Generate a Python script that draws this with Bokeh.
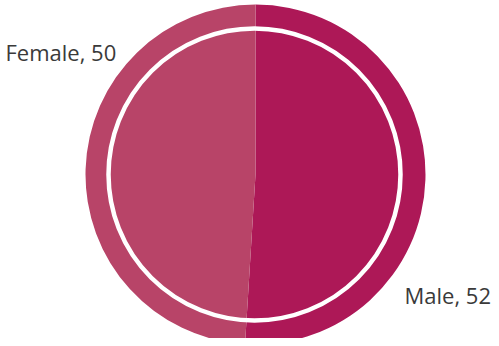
import math
from bokeh.plotting import figure
from bokeh.models import Range1d
from bokeh.core.properties import value
from bokeh.embed import file_html
from bokeh.resources import INLINE

# data
categories = ["Male", "Female"]
counts = [52, 50]
colors = ["#AD1857", "#B84468"]

W, H = 491, 338
p = figure(width=W, height=H, output_backend="svg", toolbar_location=None,
           x_range=Range1d(0, W), y_range=Range1d(H, 0), min_border=0)
p.axis.visible = False
p.grid.visible = False
p.outline_line_color = None
p.background_fill_color = "white"
p.border_fill_color = "white"

# positions measured from the top-left of the picture
cx, cy, r = 255, 174, 170
total = sum(counts)
theta_m = 2 * math.pi * counts[0] / total
theta_f = 2 * math.pi * counts[1] / total
# angles are on screen, counter-clockwise from 3 o'clock
starts = [math.pi / 2 - theta_m, math.pi / 2]
ends = [math.pi / 2, math.pi / 2 + theta_f]

p.wedge(x=[cx, cx], y=[cy, cy], radius=r, radius_units="screen",
        start_angle=starts, end_angle=ends, fill_color=colors,
        line_color=None)

# white inner ring
p.scatter(x=[254], y=[174], size=2 * 146, marker="circle",
          fill_color=None, line_color="white", line_width=4.5)

labels = [f"{c}, {v}" for c, v in zip(categories, counts)]
p.text(x=[404], y=[294], text=[labels[0]], text_font=value("Open Sans"),
       text_font_size="22px", text_color="#3a3a3a",
       text_align="left", text_baseline="alphabetic")
p.text(x=[5], y=[51], text=[labels[1]], text_font=value("Open Sans"),
       text_font_size="22px", text_color="#3a3a3a",
       text_align="left", text_baseline="alphabetic")

open("out.html", "w").write(file_html(p, INLINE))
